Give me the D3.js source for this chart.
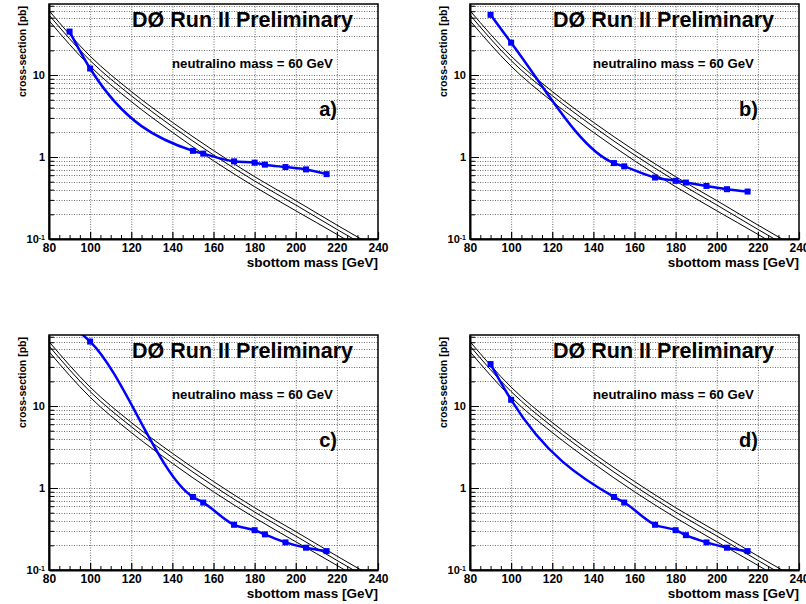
<!DOCTYPE html>
<html><head><meta charset="utf-8">
<script src="https://cdn.jsdelivr.net/npm/d3@7"></script>
<style>
body{margin:0;background:#fff;}
svg text{font-family:"Liberation Sans",Arial,Helvetica,sans-serif;font-weight:bold;fill:#000;}
</style></head><body>
<svg id="chart" width="806" height="604"></svg>
<script>
// ---------- data ----------
const panelLabels = ["a)", "b)", "c)", "d)"];
const massPoints = [90, 100, 150, 155, 170, 180, 185, 195, 205, 215];
const limitA = [33.9, 12.0, 1.19, 1.10, 0.885, 0.853, 0.807, 0.754, 0.706, 0.618];
const limitB = [54.2, 24.8, 0.843, 0.769, 0.562, 0.512, 0.488, 0.444, 0.405, 0.379];
const limitC = [100, 61.1, 0.778, 0.664, 0.356, 0.306, 0.272, 0.217, 0.187, 0.170];
const limitD = [32.5, 11.9, 0.778, 0.665, 0.356, 0.306, 0.266, 0.217, 0.187, 0.170];
const theoryMass = [80, 100, 120, 140, 160, 180, 200, 220, 240];
const theoryUpper = [61, 17.0, 6.3, 2.65, 1.20, 0.575, 0.294, 0.148, 0.076];
const theoryCentral = [54, 15.0, 5.6, 2.35, 1.06, 0.51, 0.26, 0.131, 0.067];
const theoryLower = [46, 12.8, 4.75, 2.0, 0.90, 0.434, 0.221, 0.114, 0.057];
const xMajorTicks = [80, 100, 120, 140, 160, 180, 200, 220, 240];
const xMinorTicks = [85, 90, 95, 105, 110, 115, 125, 130, 135, 145, 150, 155, 165, 170, 175, 185, 190, 195, 205, 210, 215, 225, 230, 235];
const yMajorTicks = [0.1, 1, 10];
const yMinorTicks = [0.2, 0.3, 0.4, 0.5, 0.6, 0.7, 0.8, 0.9, 2, 3, 4, 5, 6, 7, 8, 9, 20, 30, 40, 50, 60, 70];
const xTitle = "sbottom mass [GeV]";
const yTitle = "cross-section [pb]";
const expLabel = "DØ Run II Preliminary";
const neutralinoLabel = "neutralino mass = 60 GeV";

const limits = [limitA, limitB, limitC, limitD];
const panelOrigins = [[49, 4], [470, 4], [49, 335], [470, 335]];

// ---------- drawing ----------
const W = 329, H = 235;
const svg = d3.select("#chart");
const x = d3.scaleLinear().domain([80, 240]).range([0, W]);
const y = d3.scaleLog().domain([0.1, 73.5]).range([H, 0]);

svg.append("defs").append("clipPath").attr("id", "plotclip")
  .append("rect").attr("x", 0).attr("y", 0).attr("width", W).attr("height", H);

const theorySets = [theoryUpper, theoryCentral, theoryLower];
const lineGen = d3.line().x(d => x(d[0])).y(d => y(d[1])).curve(d3.curveMonotoneX);

limits.forEach((lim, i) => {
  const g = svg.append("g").attr("transform", `translate(${panelOrigins[i][0]},${panelOrigins[i][1]})`);

  // grid
  const grid = g.append("g").attr("stroke", "#6e6e6e").attr("stroke-width", 1).attr("stroke-dasharray", "1,1.5");
  grid.selectAll("line.vx").data(xMajorTicks.slice(1, -1)).join("line")
    .attr("x1", d => x(d) + 0.5).attr("x2", d => x(d) + 0.5).attr("y1", 0).attr("y2", H);
  grid.selectAll("line.hy").data(yMinorTicks.concat([1, 10])).join("line")
    .attr("y1", d => Math.round(y(d)) + 0.5).attr("y2", d => Math.round(y(d)) + 0.5).attr("x1", 0).attr("x2", W);

  // theory curves
  const plot = g.append("g").attr("clip-path", "url(#plotclip)");
  theorySets.forEach(ts => {
    plot.append("path")
      .datum(theoryMass.map((m, k) => [m, ts[k]]))
      .attr("fill", "none").attr("stroke", "#000").attr("stroke-width", 1)
      .attr("d", lineGen);
  });

  // limit curve
  const pts = massPoints.map((m, k) => [m, lim[k]]);
  plot.append("path").datum(pts)
    .attr("fill", "none").attr("stroke", "#0000ff").attr("stroke-width", 2.5)
    .attr("d", lineGen);
  plot.selectAll("rect.mk").data(pts).join("rect")
    .attr("x", d => x(d[0]) - 3).attr("y", d => y(d[1]) - 3)
    .attr("width", 6).attr("height", 6).attr("fill", "#0000ff");

  // x axis
  const xa = g.append("g").attr("transform", `translate(0,${H})`)
    .call(d3.axisBottom(x).tickValues(xMajorTicks).tickSize(-7).tickSizeOuter(0).tickPadding(4).tickFormat(d3.format("d")));
  xa.select(".domain").attr("stroke-width", 2);
  xa.selectAll(".tick line").attr("stroke-width", 1.2);
  xa.selectAll("text").attr("font-size", 12).attr("font-family", null);
  const xm = g.append("g").attr("transform", `translate(0,${H})`)
    .call(d3.axisBottom(x).tickValues(xMinorTicks).tickSize(-4).tickSizeOuter(0).tickFormat(""));
  xm.select(".domain").remove();

  // y axis
  const ya = g.append("g")
    .call(d3.axisLeft(y).tickValues(yMajorTicks).tickSize(-9).tickSizeOuter(0).tickPadding(4)
      .tickFormat(d => d < 1 ? "10" : d3.format("d")(d)));
  ya.select(".domain").attr("stroke-width", 2);
  ya.selectAll("text").attr("font-size", 11).attr("font-family", null);
  ya.selectAll(".tick").filter(d => d < 1).select("text")
    .append("tspan").attr("font-size", 7).attr("dy", "-0.5em").text("-1");
  const ym = g.append("g")
    .call(d3.axisLeft(y).tickValues(yMinorTicks).tickSize(-5).tickSizeOuter(0).tickFormat(""));
  ym.select(".domain").remove();

  // frame
  g.append("rect").attr("x", 0).attr("y", 0).attr("width", W).attr("height", H)
    .attr("fill", "none").attr("stroke", "#000").attr("stroke-width", 1.5);

  // titles
  g.append("text").attr("x", W).attr("y", H + 28).attr("text-anchor", "end")
    .attr("font-size", 13.5).text(xTitle);
  g.append("text").attr("transform", "translate(-23,2) rotate(-90)").attr("text-anchor", "end")
    .attr("font-size", 10.5).text(yTitle);

  // annotations
  g.append("text").attr("x", 83).attr("y", 23).attr("font-size", 21.5).text(expLabel);
  g.append("text").attr("x", 123).attr("y", 64).attr("font-size", 13.2).text(neutralinoLabel);
  g.append("text").attr("x", 288).attr("y", 112).attr("text-anchor", "end").attr("font-size", 20).text(panelLabels[i]);
});
</script>
</body></html>
